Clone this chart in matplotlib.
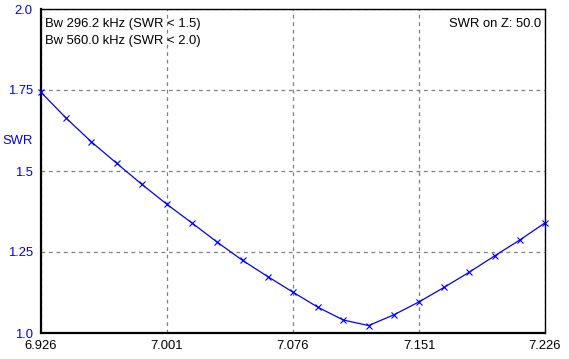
import numpy as np
import matplotlib
matplotlib.use("Agg")
from matplotlib import pyplot as plt

# frequency sweep (MHz) and measured SWR
freq = [6.926, 6.941, 6.956, 6.971, 6.986, 7.001, 7.016, 7.031, 7.046, 7.061, 7.076,
        7.091, 7.106, 7.121, 7.136, 7.151, 7.166, 7.181, 7.196, 7.211, 7.226]
swr = [1.743, 1.663, 1.590, 1.524, 1.459, 1.397, 1.339, 1.280, 1.224, 1.174, 1.126,
       1.079, 1.040, 1.023, 1.056, 1.096, 1.141, 1.188, 1.238, 1.287, 1.340]
xticks = [6.926, 7.001, 7.076, 7.151, 7.226]
yticks = [1.0, 1.25, 1.5, 1.75, 2.0]
ytick_labels = ["1.0", "1.25", "1.5", "1.75", "2.0"]

plt.rcParams['font.family'] = ['Liberation Sans', 'DejaVu Sans']
plt.rcParams['font.size'] = 9.4

fig = plt.figure(figsize=(5.69, 3.59), dpi=100)
ax = fig.add_axes([41/569, 26/359, 504/569, 324/359])

ax.plot(freq, swr, color='#0000ff', linewidth=0.9, marker='x', markersize=5,
        markeredgewidth=0.8, clip_on=False, zorder=3)

ax.set_xlim(6.926, 7.226)
ax.set_ylim(1.0, 2.0)
ax.set_xticks(xticks)
ax.set_xticklabels([f"{t:.3f}" for t in xticks])
ax.set_yticks(yticks)
ax.set_yticklabels(ytick_labels, color='#0000ff')
ax.tick_params(length=0, pad=6)
ax.tick_params(axis='x', pad=5)

ax.grid(True, color='#808080', linestyle=(0, (3, 3)), linewidth=0.9)
for s in ['left', 'bottom']:
    ax.spines[s].set_linewidth(1.6)
for s in ['top', 'right']:
    ax.spines[s].set_linewidth(1.0)

ax.set_ylabel("SWR", rotation=0, color='#0000ff')
ax.yaxis.set_label_coords(-0.047, 0.575)

ax.text(0.008, 0.955, "Bw 296.2 kHz (SWR < 1.5)", transform=ax.transAxes, va='center', ha='left')
ax.text(0.008, 0.902, "Bw 560.0 kHz (SWR < 2.0)", transform=ax.transAxes, va='center', ha='left')
ax.text(0.992, 0.955, "SWR on Z: 50.0", transform=ax.transAxes, va='center', ha='right')

fig.savefig("out.png", dpi=100)
